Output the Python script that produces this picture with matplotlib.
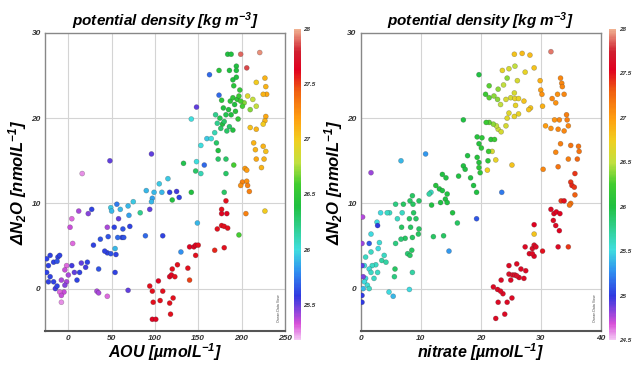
import numpy as np
import matplotlib
matplotlib.use("Agg")
import matplotlib.pyplot as plt
from matplotlib.colors import LinearSegmentedColormap

plt.rcParams['font.family'] = ['Liberation Sans', 'DejaVu Sans']
plt.rcParams['mathtext.fontset'] = 'custom'
plt.rcParams['mathtext.rm'] = 'Liberation Sans:bold:italic'
plt.rcParams['mathtext.it'] = 'Liberation Sans:bold:italic'
plt.rcParams['mathtext.bf'] = 'Liberation Sans:bold:italic'
plt.rcParams['mathtext.default'] = 'rm'

# left panel: AOU vs dN2O, coloured by potential density
aou_pts = [
    (184, 27.5, 26.4), (188, 27.5, 26.4), (199, 27.5, 27.9), (221, 27.7, 27.95),
    (174, 25.6, 26.45), (186, 25.6, 26.4), (194, 26.1, 26.4), (194, 25.6, 26.4), (206, 25.9, 27.85),
    (163, 25.1, 25.7), (174, 22.7, 25.7),
    (190, 24.5, 26.4), (194, 24.8, 26.4), (191, 23.8, 26.45), (198, 23.3, 26.5),
    (217, 24.2, 27.0), (227, 24.7, 27.1), (228, 23.7, 27.1), (229, 22.8, 27.15), (225, 22.8, 27.1),
    (207, 22.6, 26.9), (213, 22.2, 26.8), (217, 21.4, 26.8), (203, 21.8, 26.7), (210, 21.0, 26.7),
    (228, 20.2, 27.15), (227, 19.7, 27.1), (210, 18.9, 27.05), (217, 18.7, 27.1), (225, 19.3, 27.0),
    (148, 21.3, 25.5), (142, 19.9, 26.0), (160, 17.6, 25.95), (165, 17.6, 26.0), (169, 18.3, 26.1),
    (171, 17.1, 26.3), (173, 16.2, 26.4),
    (175, 20.0, 26.35), (178, 19.3, 26.4), (180, 19.6, 26.3), (182, 20.4, 26.35), (185, 21.0, 26.4),
    (187, 22.0, 26.45), (190, 22.4, 26.5), (192, 21.6, 26.4), (195, 22.2, 26.5), (197, 22.6, 26.55),
    (199, 22.0, 26.6), (201, 21.4, 26.6), (186, 19.0, 26.3), (183, 18.5, 26.3), (176, 18.8, 26.3),
    (188, 20.4, 26.4), (193, 20.8, 26.45), (179, 21.2, 26.4), (172, 19.4, 26.2), (177, 22.1, 26.45),
    (170, 20.4, 26.2), (196, 19.9, 26.5), (190, 18.6, 26.4),
    (214, 17.1, 27.1), (216, 16.3, 27.1), (225, 16.7, 27.1), (228, 16.1, 27.05), (217, 15.2, 27.15),
    (226, 15.2, 27.1), (223, 14.2, 27.1),
    (204, 14.1, 27.2), (206, 13.9, 27.2), (201, 12.5, 27.3), (206, 12.6, 27.25), (207, 12.1, 27.3),
    (209, 11.4, 27.3), (199, 12.1, 27.25),
    (205, 8.8, 27.3), (227, 9.1, 27.0), (197, 6.3, 26.6), (191, 14.5, 26.6),
    (173, 15.2, 26.3), (182, 15.2, 26.3), (182, 13.5, 26.3), (157, 14.5, 25.7), (148, 14.9, 26.0),
    (153, 13.5, 26.1), (147, 13.8, 26.3), (133, 14.7, 26.35),
    (153, 16.8, 26.0), (180, 11.3, 26.3), (142, 11.3, 26.4), (120, 10.4, 26.4), (117, 11.3, 25.6),
    (125, 11.4, 25.55), (128, 10.7, 25.6),
    (115, 12.9, 25.95), (105, 12.3, 25.95), (108, 11.3, 25.9), (99, 11.3, 25.9), (97, 10.6, 25.85),
    (96, 10.2, 25.9), (90, 11.5, 25.9),
    (94, 9.3, 25.5), (83, 8.9, 26.2), (75, 10.2, 25.95), (69, 9.7, 25.9), (60, 9.3, 25.9),
    (56, 9.9, 25.75), (49, 9.5, 25.95), (50, 9.1, 25.9),
    (58, 8.2, 25.5), (70, 8.6, 25.85), (71, 7.3, 25.6), (63, 7.0, 25.65), (62, 6.0, 25.6),
    (64, 6.0, 25.65), (57, 6.0, 25.7), (53, 7.2, 25.6),
    (45, 7.2, 25.4), (46, 6.1, 25.65), (37, 5.8, 25.65), (29, 5.1, 25.6), (45, 4.2, 25.6),
    (49, 4.1, 25.65), (55, 4.0, 25.6), (54, 4.7, 25.9),
    (54, 1.9, 25.6), (42, 4.4, 25.6), (35, 2.3, 25.65), (27, 9.3, 25.6), (23, 8.8, 25.45),
    (12, 9.1, 25.4), (4, 8.2, 25.3), (2, 7.2, 25.35), (5, 5.3, 25.3),
    (22, 3.1, 25.6), (20, 2.5, 25.55), (13, 1.9, 25.6), (15, 3.0, 25.5), (10, 1.0, 25.6),
    (4, 2.7, 25.55), (7, 1.9, 25.5), (-2, 2.7, 25.3), (-4, 2.2, 25.35), (0, 1.6, 25.4),
    (-2, 0.8, 25.4), (-4, 0.4, 25.45), (-8, 1.0, 25.4), (-5, -0.4, 25.35), (-10, -0.4, 25.3),
    (-15, 0.0, 25.55), (-8, -0.8, 25.35), (-8, -1.6, 25.25),
    (-21, 3.9, 25.6), (-17, 3.1, 25.6), (-12, 3.7, 25.6), (-10, 3.9, 25.6), (-13, 3.2, 25.65),
    (-25, 3.5, 25.6), (-23, 2.7, 25.6), (-25, 1.9, 25.6), (-21, 1.4, 25.6), (-17, 0.8, 25.6),
    (-13, 0.3, 25.6), (-23, 0.8, 25.6),
    (33, -0.3, 25.4), (35, -0.5, 25.4), (45, -0.9, 25.3), (69, -0.2, 25.5),
    (48, 15.0, 25.5), (16, 13.5, 25.25), (96, 15.8, 25.5), (109, 6.2, 25.6), (89, 6.2, 25.7),
    (94, 0.3, 27.6), (97, -0.3, 27.6), (104, 0.9, 27.65), (109, -0.3, 27.6), (98, -1.6, 27.6),
    (97, -3.6, 27.65), (101, -3.6, 27.65), (106, -1.4, 27.6), (117, -1.7, 27.6), (118, -3.0, 27.6),
    (121, -1.1, 27.6), (117, 1.4, 27.65), (119, 1.6, 27.65), (123, 1.4, 27.6), (120, 2.3, 27.6),
    (126, 2.8, 27.6), (130, 4.3, 25.8), (138, 2.4, 27.6), (140, 1.0, 27.5), (140, 4.9, 27.65),
    (145, 4.9, 27.65), (147, 5.1, 27.65), (150, 5.1, 27.6), (147, 3.9, 27.6), (169, 4.5, 27.55),
    (180, 4.8, 27.6), (172, 7.0, 27.6), (177, 7.4, 27.6), (180, 7.3, 27.6), (184, 7.1, 27.6),
    (183, 8.8, 27.65), (177, 9.3, 27.6), (177, 8.8, 27.65), (182, 10.3, 27.6), (149, 7.7, 25.9),
]

# right panel: nitrate vs dN2O
no3_pts = [
    (25.6, 27.5, 26.8), (26.9, 27.6, 26.85), (28.2, 27.4, 26.85), (31.7, 27.8, 27.9),
    (24.7, 25.8, 26.6), (25.7, 26.1, 26.5), (23.6, 25.6, 26.7), (19.7, 25.1, 26.0), (24.4, 24.7, 26.4),
    (27.4, 25.4, 26.7), (28.9, 25.9, 26.8), (26.1, 24.4, 26.6), (21.4, 23.8, 26.3), (23.8, 23.9, 26.5),
    (22.9, 23.4, 26.4), (25.6, 22.96, 26.6),
    (29.9, 24.4, 26.9), (30.0, 23.3, 27.0), (30.2, 22.8, 27.05), (33.3, 24.7, 27.1), (33.5, 24.1, 27.1),
    (33.6, 23.7, 27.1), (33.9, 22.8, 27.1), (32.8, 22.8, 27.05), (31.9, 22.3, 27.1), (32.5, 21.8, 27.05),
    (30.3, 21.4, 26.9),
    (33.1, 19.8, 27.1), (32.3, 19.8, 27.05), (34.3, 20.4, 27.15), (34.4, 19.8, 27.15), (30.8, 19.1, 27.0),
    (31.7, 18.8, 27.05), (33.9, 18.5, 27.1), (32.9, 18.7, 27.1), (34.6, 19.1, 27.1),
    (33.3, 17.0, 27.15), (35.0, 16.8, 27.2), (36.3, 16.7, 27.2), (36.4, 16.1, 27.2), (36.1, 15.2, 27.25),
    (32.5, 16.0, 27.1), (34.6, 15.2, 27.15), (32.9, 14.3, 27.2), (30.4, 14.0, 27.1),
    (35.7, 13.5, 27.4), (35.0, 12.5, 27.4), (35.2, 12.1, 27.45), (35.6, 11.9, 27.4), (35.7, 11.0, 27.3),
    (33.4, 10.3, 27.4), (35.0, 10.0, 27.2), (34.8, 9.8, 27.2),
    (20.8, 22.8, 26.2), (21.4, 22.4, 26.3), (22.2, 22.6, 26.4), (22.8, 22.2, 26.4), (23.3, 21.6, 26.5),
    (24.2, 22.2, 26.6), (25.0, 22.4, 26.6), (25.7, 22.3, 26.7), (26.3, 22.3, 26.7), (27.2, 22.0, 26.8),
    (28.3, 21.2, 26.8), (28.0, 21.0, 26.8), (25.8, 21.5, 26.7), (24.7, 20.6, 26.65), (24.4, 20.0, 26.65),
    (25.6, 20.2, 26.7), (26.3, 20.5, 26.7), (24.2, 19.1, 26.6), (22.9, 18.7, 26.55), (22.6, 19.1, 26.5),
    (23.4, 18.4, 26.6), (22.1, 19.3, 26.4), (21.4, 19.5, 26.3), (20.9, 19.5, 26.2),
    (21.7, 17.5, 26.1), (22.3, 17.5, 26.2), (20.2, 17.7, 26.1), (19.4, 17.8, 26.05), (19.7, 17.0, 26.05),
    (20.1, 16.5, 26.1), (21.9, 16.1, 26.6), (21.3, 16.1, 26.2), (22.5, 15.1, 26.7), (21.2, 15.0, 26.1),
    (19.4, 15.4, 26.05), (19.7, 14.8, 26.05), (19.7, 14.2, 26.1), (19.9, 13.6, 26.1), (21.1, 13.9, 26.75),
    (17.1, 14.4, 26.0), (17.8, 15.6, 26.0), (17.1, 19.8, 26.0), (25.2, 14.5, 26.8),
    (16.3, 13.2, 26.0), (17.4, 14.0, 26.0), (18.3, 13.0, 26.0), (18.8, 12.1, 26.0), (19.3, 11.3, 26.0),
    (13.6, 13.4, 26.0), (12.5, 12.1, 26.05), (14.2, 13.0, 26.0), (13.1, 11.7, 26.0), (13.6, 11.5, 26.0),
    (14.4, 11.1, 26.0), (14.1, 10.5, 26.0), (14.4, 10.1, 26.0), (11.7, 11.3, 25.6), (11.4, 11.1, 25.7),
    (11.8, 9.8, 26.0), (13.3, 10.1, 26.0), (15.3, 8.9, 26.0), (16.1, 7.7, 25.9), (12.1, 6.1, 25.9),
    (13.8, 6.2, 25.9), (14.7, 4.4, 25.3), (19.3, 8.2, 25.1), (23.5, 11.3, 25.2), (10.8, 15.8, 25.3),
    (6.7, 15.0, 25.4), (1.7, 13.6, 24.8),
    (8.6, 10.9, 25.9), (8.2, 10.3, 25.9), (7.1, 9.9, 25.9), (5.8, 9.9, 25.8), (4.8, 8.9, 25.6),
    (4.4, 8.9, 25.6), (6.9, 8.9, 25.6), (8.7, 9.9, 25.9), (9.7, 10.3, 25.9), (8.8, 8.9, 25.9),
    (9.2, 8.2, 25.9), (8.1, 8.2, 25.9), (6.1, 8.2, 25.6), (6.8, 7.2, 25.9), (8.3, 7.2, 25.9),
    (9.7, 7.0, 25.9), (7.4, 5.9, 25.9), (6.7, 5.8, 25.85), (5.8, 5.3, 25.8), (8.6, 6.0, 25.9),
    (9.6, 6.4, 25.9), (8.5, 4.5, 25.9), (7.8, 4.1, 25.85), (8.2, 3.9, 25.9), (5.7, 2.3, 25.9),
    (5.6, 1.4, 25.8), (8.6, 1.9, 25.7), (8.1, -0.1, 25.5), (4.7, -0.4, 25.5), (5.4, -0.9, 25.4),
    (2.7, 7.8, 25.5), (3.3, 8.9, 25.5), (3.1, 5.4, 25.55), (2.9, 4.7, 25.5), (1.4, 5.3, 25.1),
    (2.8, 7.4, 25.0), (1.7, 6.4, 25.5), (1.7, 4.3, 25.6), (3.9, 3.9, 25.6), (3.5, 3.3, 25.7),
    (4.2, 3.1, 25.7), (2.5, 2.8, 25.6), (1.9, 2.7, 25.6), (0.8, 3.7, 25.6), (0.6, 2.7, 25.5),
    (1.4, 2.3, 25.55), (1.7, 1.9, 25.6), (0.8, 1.2, 25.5), (0.6, 0.8, 25.5), (1.1, 0.4, 25.55),
    (1.4, 0.0, 25.6), (0.4, 0.0, 25.4), (2.2, 1.2, 25.6), (2.8, 1.9, 25.6),
    (0.3, 8.4, 24.75), (0.2, 5.3, 24.8), (0.2, 2.7, 24.9), (0.2, -0.8, 25.0), (0.2, -1.6, 25.0),
    (0.4, 1.4, 24.85),
    (22.5, -3.5, 27.6), (24.0, -3.0, 27.6), (22.9, -1.6, 27.6), (23.7, -0.6, 27.6), (22.8, -0.1, 27.6),
    (23.3, -0.3, 27.6), (22.1, 0.2, 27.6), (24.4, -1.6, 27.6), (25.2, -1.1, 27.6), (25.0, 1.0, 27.6),
    (23.4, 1.0, 27.6), (24.7, 1.7, 27.65), (25.3, 1.6, 27.65), (25.7, 1.6, 27.65), (26.4, 1.3, 27.6),
    (26.0, 1.5, 27.65), (26.7, 2.3, 27.6), (27.5, 2.1, 27.6), (27.2, 1.2, 27.6), (26.0, 2.9, 27.6),
    (24.7, 2.7, 27.6),
    (28.1, 4.1, 27.6), (28.9, 3.8, 27.55), (28.6, 4.7, 27.65), (28.9, 5.1, 27.65), (27.4, 4.9, 27.6),
    (29.2, 4.9, 27.6), (28.6, 4.1, 27.6), (30.3, 4.4, 27.5), (32.9, 4.9, 27.6), (34.6, 4.9, 27.4),
    (28.9, 6.4, 26.8), (28.9, 7.5, 27.55), (32.5, 7.4, 27.6), (33.1, 6.8, 27.55), (32.1, 8.0, 27.6),
    (32.2, 8.8, 27.6), (32.6, 9.0, 27.55), (33.2, 8.8, 27.55), (31.7, 9.3, 27.6), (33.9, 10.3, 27.5),
]

aou, n2o_a, dens_a = np.array(aou_pts).T
no3, n2o_n, dens_n = np.array(no3_pts).T

left_ticks = [25.5, 26, 26.5, 27, 27.5, 28]
right_ticks = [24.5, 25, 25.5, 26, 26.5, 27, 27.5, 28]

# ODV-like rainbow
odv = LinearSegmentedColormap.from_list("odv", [
    (0.00, "#f4c8f4"), (0.05, "#d850d8"), (0.14, "#3038e0"), (0.22, "#3090f0"),
    (0.29, "#40dede"), (0.43, "#20c040"), (0.50, "#40cc30"), (0.57, "#c0e040"),
    (0.64, "#f0d020"), (0.71, "#ffa010"), (0.80, "#f06010"), (0.87, "#e00020"),
    (0.93, "#d02030"), (1.00, "#f0b090"),
])

fig = plt.figure(figsize=(6.33, 3.66), dpi=100)

lab = dict(fontweight='bold', fontstyle='italic')


def panel(rect, crect, x, y, c, vmin, xlim, xticks, gx, cticks, xlabel):
    ax = fig.add_axes(rect)
    ax.set_xlim(*xlim)
    ax.set_ylim(-5, 30)
    for v in gx:
        ax.axvline(v, color='#d4d4d4', lw=0.8, zorder=0)
    for v in [0, 10, 20]:
        ax.axhline(v, color='#d4d4d4', lw=0.8, zorder=0)
    sc = ax.scatter(x, y, c=c, cmap=odv, vmin=vmin, vmax=28.0, s=13,
                    edgecolors=(0.15, 0.15, 0.15, 0.35), linewidths=0.4, zorder=3)
    ax.set_xticks(xticks)
    ax.set_yticks([0, 10, 20, 30])
    ax.tick_params(length=0, labelsize=6, pad=3, labelcolor='#333333')
    for t in ax.get_xticklabels() + ax.get_yticklabels():
        t.set_fontweight('bold')
        t.set_fontstyle('italic')
    for s in ax.spines.values():
        s.set_color('#888888')
        s.set_linewidth(1.0)
    ax.spines['bottom'].set_color('#555555')
    ax.spines['bottom'].set_linewidth(1.5)
    ax.set_xlabel(xlabel, fontsize=11.5, labelpad=-1, **lab)
    ax.set_ylabel('ΔN$_2$O [nmolL$^{-1}$]', fontsize=12, labelpad=2, **lab)
    ax.set_title('potential density [kg m$^{-3}$]', fontsize=11, pad=5, **lab)
    ax.text(0.985, 0.03, 'Ocean Data View', transform=ax.transAxes, rotation=90,
            fontsize=2.5, ha='right', va='bottom', color='#444444')
    cax = fig.add_axes(crect)
    cb = fig.colorbar(sc, cax=cax, ticks=cticks)
    cb.outline.set_visible(False)
    cb.ax.tick_params(length=0, labelsize=4.5, pad=2, labelcolor='#333333')
    cb.ax.set_yticklabels(['%g' % t for t in cticks])
    for t in cb.ax.get_yticklabels():
        t.set_fontweight('bold')
        t.set_fontstyle('italic')
    return ax


panel([0.071, 0.095, 0.379, 0.815], [0.464, 0.071, 0.011, 0.850],
      aou, n2o_a, dens_a, 25.18, (-27, 250), [0, 50, 100, 150, 200, 250],
      [0, 50, 100, 150, 200], left_ticks, 'AOU [µmolL$^{-1}$]')
panel([0.570, 0.095, 0.379, 0.815], [0.962, 0.071, 0.011, 0.850],
      no3, n2o_n, dens_n, 24.5, (0, 40), [0, 10, 20, 30, 40],
      [10, 20, 30], right_ticks, 'nitrate [µmolL$^{-1}$]')

fig.savefig("out.png", dpi=100)
